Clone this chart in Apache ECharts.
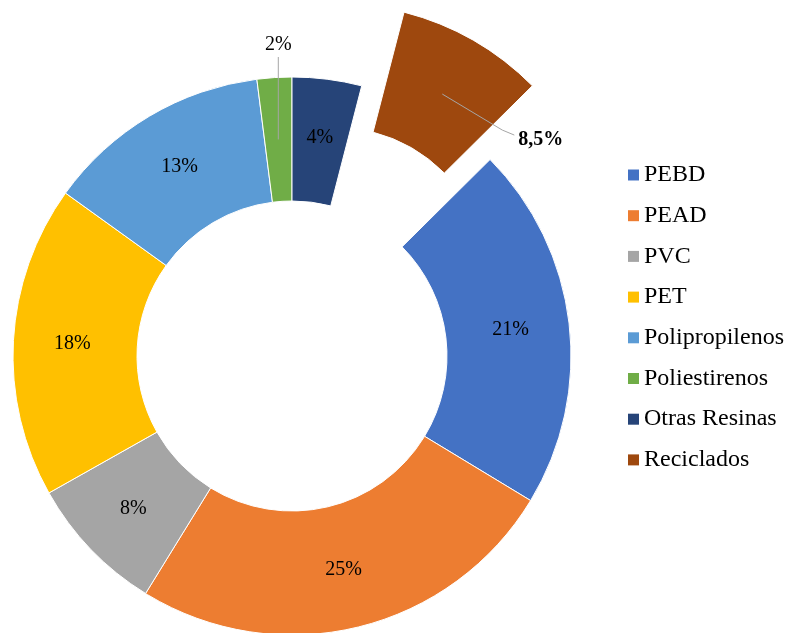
<!DOCTYPE html>
<html><head><meta charset="utf-8">
<script src="https://cdn.jsdelivr.net/npm/echarts@6/dist/echarts.min.js"></script>
<style>html,body{margin:0;padding:0;background:#fff}#c{width:786px;height:633px}</style>
</head><body><div id="c"></div>
<script>
// ---- data ----
const categories = ['PEBD','PEAD','PVC','PET','Polipropilenos','Poliestirenos','Otras Resinas','Reciclados'];
const values = [21, 25, 8, 18, 13, 2, 4, 8.5];
const colors = ['#4472C4','#ED7D31','#A5A5A5','#FFC000','#5B9BD5','#70AD47','#264478','#9E480E'];
const explodedName = 'Reciclados';
const outsideLabelName = 'Poliestirenos';
const topAlignedName = 'Otras Resinas'; // this slice starts at 12 o'clock

// ---- geometry ----
const CX = 292, CY = 356, R0 = 155, R1 = 279, OFFSET = 85;
const total = values.reduce((a, b) => a + b, 0);
const idxTop = categories.indexOf(topAlignedName);
const before = values.slice(0, idxTop).reduce((a, b) => a + b, 0);
const startAngle = (90 + 360 * before / total) % 360;
const idxExp = categories.indexOf(explodedName);

function midAngleRad(i) {
  const cum = values.slice(0, i).reduce((a, b) => a + b, 0);
  return (startAngle - 360 * (cum + values[i] / 2) / total) * Math.PI / 180;
}
function pt(i, r) {
  const a = midAngleRad(i);
  return [CX + r * Math.cos(a), CY - r * Math.sin(a)];
}
const expCenter = pt(idxExp, OFFSET);
const fmt = v => String(v).replace('.', ',') + '%';
const HIDDEN = {color: 'rgba(0,0,0,0)', borderWidth: 0};
const LABEL_FONT = {fontFamily: 'Liberation Serif', fontSize: 20, color: '#000'};

// visibleFn(name) -> whether the sector is drawn; labelFn(name) -> label config or null
function makeSeries(name, center, z, visibleFn, labelMode, labelLayout) {
  return {
    type: 'pie', name: name, z: z,
    center: center,
    radius: [R0, R1],
    startAngle: startAngle,
    clockwise: true,
    avoidLabelOverlap: false,
    silent: true,
    itemStyle: {borderColor: '#fff', borderWidth: 1},
    emphasis: {disabled: true, scale: false},
    label: Object.assign({show: true, position: 'inside', formatter: p => fmt(p.value)}, LABEL_FONT),
    labelLine: {show: false, lineStyle: {color: '#a6a6a6', width: 1}},
    labelLayout: labelLayout,
    data: categories.map((n, i) => {
      const item = {name: n, value: values[i],
                    itemStyle: visibleFn(n) ? {color: colors[i]} : HIDDEN};
      const lm = labelMode(n);
      if (lm === 'inside') {
        // default inside label
      } else if (lm === 'outside' || lm === 'outsideBold') {
        item.label = {show: true, position: 'outside', fontWeight: lm === 'outsideBold' ? 'bold' : 'normal'};
        item.labelLine = {show: true, length: 10, length2: 10};
      } else {
        item.label = {show: false};
      }
      return item;
    })
  };
}

const series = [
  // main ring
  makeSeries('main', [CX, CY], 2,
    n => n !== explodedName,
    n => (n !== explodedName && n !== outsideLabelName) ? 'inside' : null),
  // exploded slice
  makeSeries('exploded', expCenter, 2,
    n => n === explodedName,
    n => null),
  // overlay with the callout of the small slice
  makeSeries('calloutMain', [CX, CY], 3,
    n => false,
    n => n === outsideLabelName ? 'outside' : null,
    function (p) {
      const i = p.dataIndex;
      if (categories[i] !== outsideLabelName) return;
      const s = pt(i, (R0 + R1) / 2);
      const top = CY - R1 - 20;
      return {x: s[0], y: CY - R1 - 32, align: 'center', verticalAlign: 'middle',
              labelLinePoints: [s, [s[0], top], [s[0], top]]};
    }),
  // overlay with the callout of the exploded slice
  makeSeries('calloutExploded', expCenter, 3,
    n => false,
    n => n === explodedName ? 'outsideBold' : null,
    function (p) {
      const i = p.dataIndex;
      if (categories[i] !== explodedName) return;
      const s = pt(i, (R0 + R1) / 2 + OFFSET);
      return {x: s[0] + 76, y: s[1] + 46, align: 'left', verticalAlign: 'middle',
              labelLinePoints: [s, [s[0] + 60, s[1] + 36], [s[0] + 72, s[1] + 41]]};
    })
];

const chart = echarts.init(document.getElementById('c'), null, {renderer: 'canvas'});
chart.setOption({
  animation: false,
  backgroundColor: '#fff',
  legend: {
    orient: 'vertical', left: 623, top: 158,
    itemWidth: 11, itemHeight: 11, itemGap: 16.7, icon: 'rect',
    selectedMode: false,
    itemStyle: {borderWidth: 0},
    textStyle: {fontFamily: 'Liberation Serif', fontSize: 24, color: '#000', lineHeight: 24},
    data: categories.map((n, i) => ({name: n, itemStyle: {color: colors[i], borderWidth: 0}}))
  },
  series: series
});
</script>
</body></html>
